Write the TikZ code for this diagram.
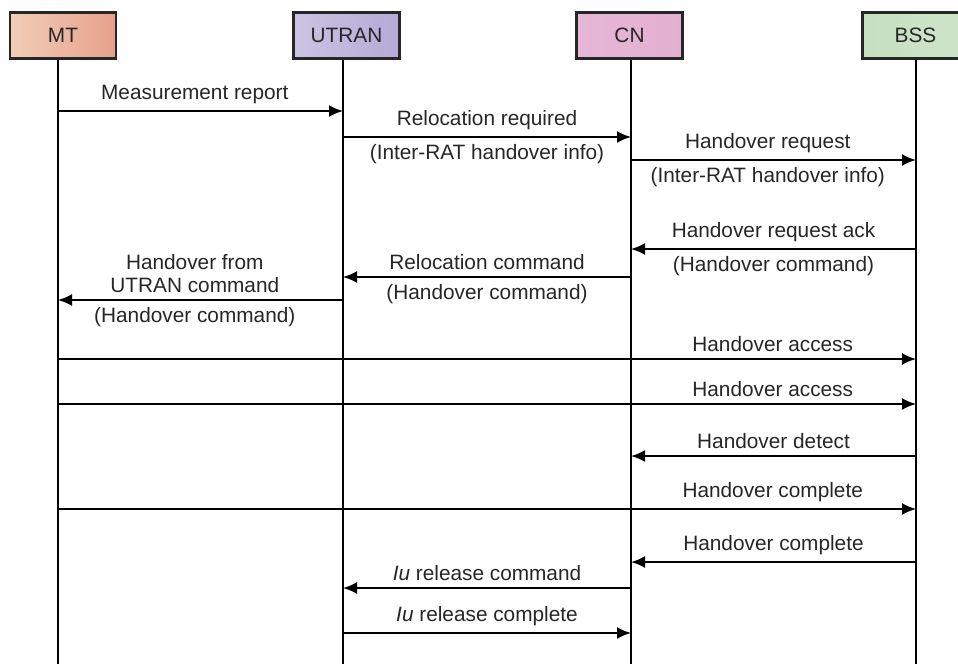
\documentclass[tikz,border=0pt]{standalone}
\usepackage{fontspec}
\setmainfont{Liberation Sans}
\usetikzlibrary{arrows.meta}

% box shades
\definecolor{mtleft}{HTML}{F2CDB8}
\definecolor{mtmid}{HTML}{FDF3EE}
\definecolor{mtright}{HTML}{E6A08A}
\definecolor{utranleft}{HTML}{CBC4E2}
\definecolor{utranmid}{HTML}{F6F3FA}
\definecolor{utranright}{HTML}{B3AAD6}
\definecolor{cnleft}{HTML}{E6B6D6}
\definecolor{cnmid}{HTML}{FAEEF5}
\definecolor{cnright}{HTML}{E4B0D2}
\definecolor{bssleft}{HTML}{C6E0C0}
\definecolor{bssmid}{HTML}{EEF6EE}
\definecolor{bssright}{HTML}{CFE4CA}

\tikzset{
    entity/.style={draw=black!85, line width=1.4pt, rectangle,
        minimum width=53pt, minimum height=23pt, inner sep=0pt},
    lifeline/.style={line width=1pt},
    msg/.style={->, line width=1pt},
    lbl/.style={font=\fontsize{10.4}{11.5}\selectfont, text=black!85, align=center}
}

\begin{document}
\begin{tikzpicture}[x=0.5pt, y=-0.5pt, >={Latex[length=7pt,width=6pt]}]
    \useasboundingbox (0,0) rectangle (958,664);

    % 实体框
    \node[entity, lbl, left color=mtleft, middle color=mtmid, right color=mtright] (mtbox) at (63,35.5) {MT};
    \node[entity, lbl, left color=utranleft, middle color=utranmid, right color=utranright] (utranbox) at (346.5,35.5) {UTRAN};
    \node[entity, lbl, left color=cnleft, middle color=cnmid, right color=cnright] (cnbox) at (629.5,35.5) {CN};
    \node[entity, lbl, left color=bssleft, middle color=bssmid, right color=bssright] (bssbox) at (915.5,35.5) {BSS};

    % 生命线底端
    \coordinate (mt) at (58,664);
    \coordinate (utran) at (343,664);
    \coordinate (cn) at (631,664);
    \coordinate (bss) at (916,664);

    % 生命线
    \draw[lifeline] (mtbox.south -| mt) -- (mt);
    \draw[lifeline] (utranbox.south -| utran) -- (utran);
    \draw[lifeline] (cnbox.south -| cn) -- (cn);
    \draw[lifeline] (bssbox.south -| bss) -- (bss);

    % 消息
    \draw[msg] (mt |- 0,111) -- node[lbl, above, pos=0.48] (m1) {Measurement report} (utran |- 0,111);
    \draw[msg] (utran |- 0,137) -- node[lbl, above] (m2) {Relocation required}
        node[lbl, below] (m2b) {(Inter-RAT handover info)} (cn |- 0,137);
    \draw[msg] (cn |- 0,160) -- node[lbl, above, pos=0.48] (m3) {Handover request}
        node[lbl, below, pos=0.48] (m3b) {(Inter-RAT handover info)} (bss |- 0,160);
    \draw[msg] (bss |- 0,249) -- node[lbl, above] (m4) {Handover request ack}
        node[lbl, below] (m4b) {(Handover command)} (cn |- 0,249);
    \draw[msg] (cn |- 0,277) -- node[lbl, above] (m5) {Relocation command}
        node[lbl, below] (m5b) {(Handover command)} (utran |- 0,277);
    \draw[msg] (utran |- 0,300) -- node[lbl, above, pos=0.52] (m6) {Handover from\\UTRAN command}
        node[lbl, below, pos=0.52] (m6b) {(Handover command)} (mt |- 0,300);
    \draw[msg] (mt |- 0,359) -- node[lbl, above, pos=0.833] (m7) {Handover access} (bss |- 0,359);
    \draw[msg] (mt |- 0,404) -- node[lbl, above, pos=0.833] (m8) {Handover access} (bss |- 0,404);
    \draw[msg] (bss |- 0,456) -- node[lbl, above] (m9) {Handover detect} (cn |- 0,456);
    \draw[msg] (mt |- 0,509) -- node[lbl, above, pos=0.833] (m10) {Handover complete} (bss |- 0,509);
    \draw[msg] (bss |- 0,562) -- node[lbl, above] (m11) {Handover complete} (cn |- 0,562);
    \draw[msg] (cn |- 0,588) -- node[lbl, above] (m12) {\textit{Iu} release command} (utran |- 0,588);
    \draw[msg] (utran |- 0,633) -- node[lbl, above] (m13) {\textit{Iu} release complete} (cn |- 0,633);

\end{tikzpicture}
\end{document}
